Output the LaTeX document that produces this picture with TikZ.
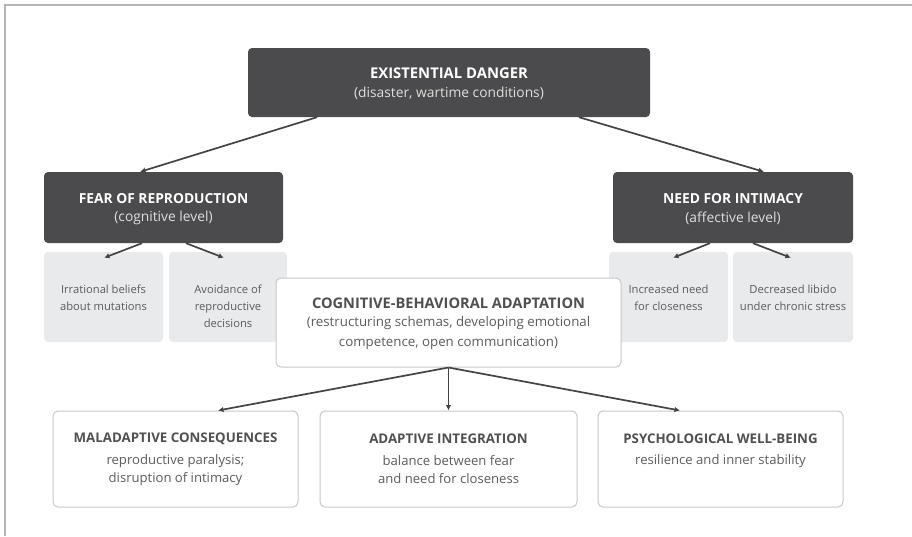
\documentclass[tikz,border=0pt]{standalone}
\usepackage{fontspec}
\setmainfont{Open Sans}
\usetikzlibrary{arrows.meta,calc}
\definecolor{darkfill}{HTML}{4B4B4D}
\definecolor{lightfill}{HTML}{E9EAEC}
\definecolor{boxline}{HTML}{C8C8C8}
\definecolor{framegray}{HTML}{B4B4B4}
\definecolor{textgray}{HTML}{505050}
\definecolor{subgray}{HTML}{5C5C5C}
\definecolor{subwhite}{HTML}{DEDEDE}
\definecolor{arrowgray}{HTML}{444444}
\tikzset{
  darkbox/.style={fill=darkfill, rounded corners=4pt, inner sep=0pt},
  lightbox/.style={fill=lightfill, rounded corners=4pt, inner sep=0pt},
  whitebox/.style={fill=white, draw=boxline, line width=1pt, rounded corners=5pt, inner sep=0pt},
  txt/.style={inner sep=0pt, align=center},
  darktitle/.style={txt, text=white, font=\fontsize{13.8}{16}\selectfont\bfseries},
  bigtitle/.style={txt, text=white, font=\fontsize{14.8}{16}\selectfont\bfseries},
  darksub/.style={txt, text=subwhite, font=\fontsize{13.8}{16}\selectfont},
  wtitle/.style={txt, text=textgray, font=\fontsize{13.3}{16}\selectfont\bfseries},
  ctitle/.style={txt, text=textgray, font=\fontsize{14.6}{16}\selectfont\bfseries},
  wsub/.style={txt, text=subgray, font=\fontsize{13.1}{18}\selectfont},
  csub/.style={txt, text=subgray, font=\fontsize{13.3}{20}\selectfont},
  gsub/.style={txt, text=subgray, font=\fontsize{11.2}{17}\selectfont},
  conn/.style={draw=arrowgray, line width=1.7pt, -{Latex[length=5.5pt,width=5.5pt]}},
}
\begin{document}
\begin{tikzpicture}[x=1pt,y=-1pt]
\useasboundingbox (0,0) rectangle (912,536);
\fill[white] (0,0) rectangle (912,536);
\draw[framegray, line width=1.5pt] (5,536) -- (5,5) -- (912,5);

% boxes
\node[darkbox, minimum width=402pt, minimum height=69pt] (top) at (449,82.5) {};
\node[darkbox, minimum width=239pt, minimum height=71pt] (fear) at (163.5,207.5) {};
\node[darkbox, minimum width=240pt, minimum height=71pt] (need) at (733,207.5) {};
\node[lightbox, minimum width=119pt, minimum height=90pt] (g1) at (103.5,297) {};
\node[lightbox, minimum width=118pt, minimum height=90pt] (g2) at (228,297) {};
\node[lightbox, minimum width=119pt, minimum height=90pt] (g3) at (668.5,297) {};
\node[lightbox, minimum width=120pt, minimum height=90pt] (g4) at (793,297) {};
\node[whitebox, minimum width=345pt, minimum height=89pt] (cba) at (448.5,322.5) {};
\node[whitebox, minimum width=245pt, minimum height=96pt] (b1) at (175.5,459) {};
\node[whitebox, minimum width=257pt, minimum height=96pt] (b2) at (448.5,459) {};
\node[whitebox, minimum width=245pt, minimum height=96pt] (b3) at (720.5,459) {};

% texts
\node[bigtitle] (topT) at (449,73) {EXISTENTIAL DANGER};
\node[darksub] (topS) at (449,93) {(disaster, wartime conditions)};
\node[darktitle] (fearT) at (163.5,199) {FEAR OF REPRODUCTION};
\node[darksub] (fearS) at (163.5,218) {(cognitive level)};
\node[darktitle] (needT) at (733,199) {NEED FOR INTIMACY};
\node[darksub] (needS) at (733,218) {(affective level)};
\node[gsub] (g1S) at (103.5,297.5) {Irrational beliefs\\about mutations};
\node[gsub] (g2S) at (228,306) {Avoidance of\\reproductive\\decisions};
\node[gsub] (g3S) at (668.5,297.5) {Increased need\\for closeness};
\node[gsub] (g4S) at (793,297.5) {Decreased libido\\under chronic stress};
\node[ctitle] (cbaT) at (448.5,303) {COGNITIVE-BEHAVIORAL ADAPTATION};
\node[csub] (cbaS) at (448.5,333) {(restructuring schemas, developing emotional\\competence, open communication)};
\node[wtitle] (b1T) at (175.5,439) {MALADAPTIVE CONSEQUENCES};
\node[wsub] (b1S) at (175.5,470) {reproductive paralysis;\\disruption of intimacy};
\node[wtitle] (b2T) at (448.5,439) {ADAPTIVE INTEGRATION};
\node[wsub] (b2S) at (448.5,470) {balance between fear\\and need for closeness};
\node[wtitle] (b3T) at (720.5,439) {PSYCHOLOGICAL WELL-BEING};
\node[wsub] (b3S) at (720.5,461) {resilience and inner stability};

% connectors
\draw[conn] ([xshift=-132pt]top.south) -- ([xshift=-23.5pt]fear.north);
\draw[conn] ([xshift=130pt]top.south) -- ([xshift=31pt]need.north);
\draw[conn] ([xshift=-21.5pt]fear.south) -- ([xshift=0.5pt,yshift=-6pt]g1.north);
\draw[conn] ([xshift=22.5pt]fear.south) -- ([xshift=-4pt,yshift=-6pt]g2.north);
\draw[conn] ([xshift=-23pt]need.south) -- ([xshift=4.5pt,yshift=-6pt]g3.north);
\draw[conn] ([xshift=20pt]need.south) -- ([xshift=-2pt,yshift=-6pt]g4.north);
\draw[conn] (cba.south) -- ([xshift=42.5pt]b1.north);
\draw[conn] (cba.south) -- (b2.north);
\draw[conn] (cba.south) -- ([xshift=-40.5pt]b3.north);
\end{tikzpicture}
\end{document}
